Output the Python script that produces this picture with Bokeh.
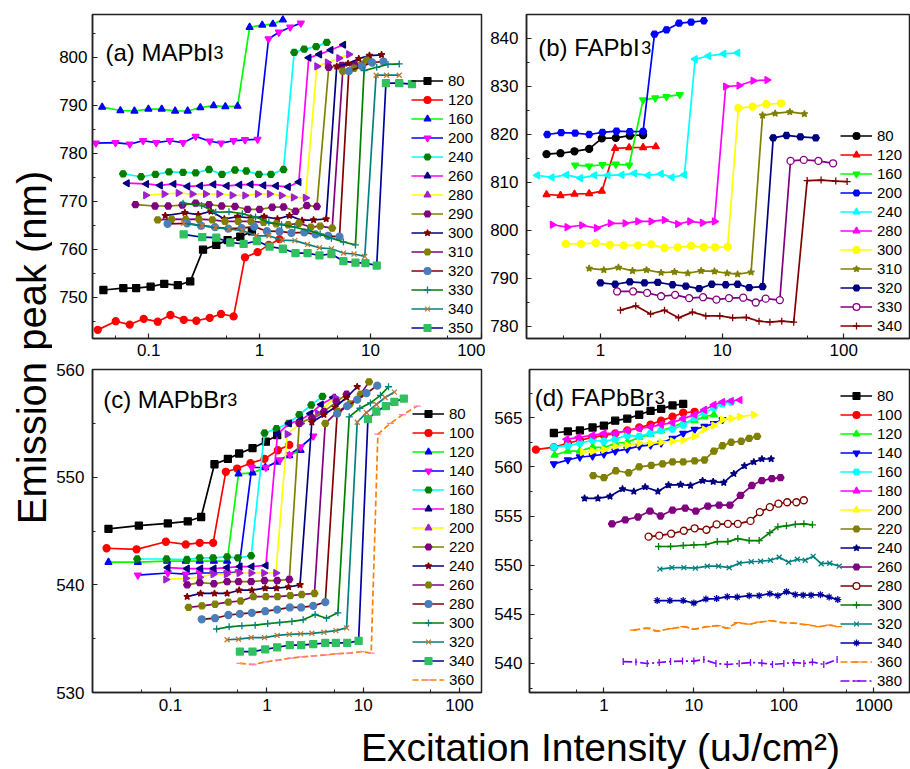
import math
from bokeh.plotting import figure
from bokeh.models import (Range1d, FixedTicker, CustomJSTickFormatter, Legend,
                          LegendItem, Label)
from bokeh.layouts import row, column
from bokeh.embed import file_html
from bokeh.resources import INLINE

FONT = "Liberation Sans"

# ---------------- (a) MAPbI3 ----------------
A_LABELS = ["80", "120", "160", "200", "240", "260", "280", "290", "300", "310", "320", "330", "340", "350"]
A80_X = [0.039, 0.059, 0.077, 0.104, 0.138, 0.183, 0.237, 0.309, 0.407, 0.515, 0.670, 0.853]
A80_Y = [751.5, 751.9, 751.9, 752.2, 752.8, 752.5, 753.3, 759.9, 760.9, 761.9, 762.6, 763.7]
A120_X = [0.0347, 0.0504, 0.0674, 0.0901, 0.1205, 0.157, 0.207, 0.269, 0.355, 0.449, 0.583, 0.738, 0.959, 1.21, 1.51]
A120_Y = [743.2, 745.0, 744.3, 745.5, 744.9, 746.3, 745.3, 745.1, 745.7, 746.5, 746.0, 758.3, 759.4, 760.9, 762.1]
A160_X = [0.038, 0.0555, 0.0743, 0.0993, 0.131, 0.173, 0.2245, 0.292, 0.385, 0.491, 0.634, 0.813, 1.057, 1.318, 1.622]
A160_Y = [789.6, 788.9, 788.8, 789.2, 789.2, 788.8, 788.8, 789.5, 789.9, 789.7, 789.8, 806.25, 806.7, 806.9, 807.8]
A200_X = [0.0333, 0.0501, 0.0674, 0.0889, 0.117, 0.155, 0.204, 0.265, 0.355, 0.449, 0.583, 0.738, 0.959, 1.205, 1.493, 1.889, 2.357]
A200_Y = [782.1, 782.2, 781.9, 782.6, 782.2, 782.6, 782.2, 783.5, 782.5, 782.1, 782.6, 782.8, 782.9, 803.8, 805.2, 806.25, 807.1]
A240_X = [0.0587, 0.0853, 0.115, 0.1525, 0.204, 0.265, 0.350, 0.458, 0.600, 0.759, 0.986, 1.265, 1.645, 2.053, 2.525, 3.24, 4.04]
A240_Y = [775.7, 775.1, 775.6, 776.1, 776.0, 775.9, 776.6, 775.6, 776.5, 776.3, 775.6, 775.6, 776.6, 801.0, 801.7, 802.2, 803.1]
A260_X = [0.0638, 0.0953, 0.127, 0.168, 0.2245, 0.292, 0.385, 0.508, 0.660, 0.835, 1.087, 1.413, 1.812, 2.26, 2.78, 3.47, 4.39, 5.71]
A260_Y = [773.75, 773.6, 773.3, 773.6, 773.1, 773.2, 773.5, 773.2, 773.4, 773.5, 773.3, 773.2, 773.0, 774.0, 799.9, 800.6, 801.5, 802.6]
A280_X = [0.094, 0.138, 0.185, 0.247, 0.3265, 0.4305, 0.567, 0.738, 0.959, 1.231, 1.578, 2.024, 2.596, 3.29, 4.10, 5.19, 6.38]
A280_Y = [771.25, 771.5, 771.7, 771.5, 771.5, 771.5, 771.25, 771.2, 771.5, 771.5, 771.2, 770.8, 770.7, 798.1, 798.9, 799.8, 800.6]
A290_X = [0.0759, 0.114, 0.150, 0.201, 0.265, 0.350, 0.455, 0.600, 0.780, 1.0, 1.30, 1.645, 2.11, 2.67, 3.29, 4.21, 5.52, 7.12, 9.40]
A290_Y = [769.3, 769.0, 769.0, 769.2, 769.6, 769.3, 769.0, 768.9, 768.3, 768.3, 768.75, 768.8, 767.9, 769.1, 768.9, 797.9, 798.3, 798.5, 799.5]
A300_X = [0.141, 0.212, 0.280, 0.364, 0.481, 0.634, 0.835, 1.10, 1.45, 1.86, 2.42, 3.07, 3.99, 4.97, 6.29, 7.85, 9.80, 12.6]
A300_Y = [767.0, 767.6, 767.2, 767.9, 766.3, 766.8, 766.5, 766.8, 766.3, 767.0, 766.0, 766.1, 766.3, 798.1, 798.7, 799.7, 800.35, 800.5]
A310_X = [0.1205, 0.161, 0.2155, 0.284, 0.375, 0.4875, 0.642, 0.835, 1.087, 1.413, 1.812, 2.26, 2.90, 3.52, 4.52, 5.63, 7.12, 9.27]
A310_Y = [766.1, 766.25, 766.2, 766.25, 766.1, 765.8, 765.8, 765.8, 765.6, 765.3, 765.1, 765.4, 764.6, 764.8, 764.4, 797.1, 797.7, 799.4]
A320_X = [0.148, 0.2215, 0.296, 0.396, 0.522, 0.688, 0.895, 1.164, 1.514, 1.94, 2.53, 3.20, 4.15, 5.26, 6.38, 8.41, 10.35, 13.1]
A320_Y = [765.3, 765.4, 764.9, 764.6, 764.3, 764.4, 764.7, 763.75, 763.7, 763.4, 763.5, 763.1, 762.8, 762.6, 797.1, 798.1, 798.9, 799.1]
A330_X = [0.204, 0.30, 0.402, 0.530, 0.698, 0.920, 1.213, 1.578, 2.08, 2.74, 3.52, 4.45, 5.71, 7.33, 8.77, 11.4, 14.4, 18.2]
A330_Y = [769.6, 769.1, 767.7, 767.8, 767.4, 766.7, 765.6, 765.1, 764.6, 763.9, 763.2, 762.3, 761.5, 760.9, 797.2, 797.9, 798.5, 798.6]
A340_X = [0.2066, 0.304, 0.402, 0.530, 0.698, 0.933, 1.213, 1.60, 2.08, 2.71, 3.47, 4.45, 5.71, 7.12, 8.89, 11.25, 14.0, 18.2]
A340_Y = [765.4, 764.9, 764.5, 764.2, 763.9, 762.8, 762.8, 761.9, 761.8, 761.0, 760.3, 760.1, 759.2, 759.0, 758.5, 796.25, 796.25, 796.25]
A350_X = [0.2066, 0.304, 0.407, 0.544, 0.718, 0.946, 1.231, 1.622, 2.11, 2.71, 3.47, 4.45, 5.71, 7.33, 9.02, 11.4, 13.8, 18.2, 23.7]
A350_Y = [763.1, 762.5, 762.4, 761.4, 761.1, 761.7, 760.55, 760.1, 759.2, 759.2, 758.7, 759.0, 757.5, 757.2, 757.1, 756.6, 794.6, 794.6, 794.4]

# ---------------- (b) FAPbI3 ----------------
B_LABELS = ["80", "120", "160", "200", "240", "280", "300", "310", "320", "330", "340"]
B80_X = [0.360, 0.469, 0.611, 0.807, 1.026, 1.337, 1.742, 2.24]
B80_Y = [815.8, 816.0, 816.4, 816.9, 819.1, 819.2, 819.65, 819.8]
B120_X = [0.360, 0.469, 0.611, 0.807, 1.026, 1.319, 1.720, 2.24, 2.85]
B120_Y = [807.4, 807.2, 807.5, 807.6, 808.1, 817.0, 817.15, 817.2, 817.4]
B160_X = [0.619, 0.807, 1.038, 1.337, 1.720, 2.24, 2.82, 3.49, 4.49]
B160_Y = [813.5, 813.3, 813.6, 813.7, 813.5, 827.1, 827.5, 827.8, 828.2]
B200_X = [0.365, 0.475, 0.619, 0.807, 1.038, 1.354, 1.742, 2.24, 2.78, 3.49, 4.43, 5.56, 7.07]
B200_Y = [819.9, 820.3, 820.2, 819.9, 820.35, 820.6, 820.5, 820.55, 840.8, 841.7, 843.1, 843.3, 843.6]
B240_X = [0.302, 0.398, 0.526, 0.685, 0.893, 1.149, 1.497, 1.90, 2.45, 3.15, 3.86, 4.90, 6.00, 7.72, 10.3, 13.4]
B240_Y = [811.4, 811.0, 811.5, 810.8, 811.4, 811.4, 811.5, 811.8, 811.4, 811.7, 811.0, 811.5, 835.6, 836.25, 836.7, 836.9]
B280_X = [0.403, 0.532, 0.703, 0.927, 1.208, 1.596, 2.03, 2.61, 3.36, 4.32, 5.43, 6.89, 8.65, 10.7, 13.8, 18.0, 23.4]
B280_Y = [801.1, 800.6, 801.0, 800.4, 801.4, 801.4, 801.8, 801.8, 802.1, 801.25, 801.8, 801.5, 801.8, 829.9, 830.1, 831.1, 831.25]
B300_X = [0.519, 0.693, 0.916, 1.193, 1.555, 2.03, 2.61, 3.36, 4.32, 5.56, 7.07, 8.76, 11.1, 13.6, 17.8, 23.1, 30.5]
B300_Y = [797.1, 797.1, 797.3, 796.9, 796.8, 796.8, 797.0, 796.25, 796.4, 796.7, 796.4, 796.4, 796.5, 825.4, 825.7, 826.2, 826.4]
B310_X = [0.807, 1.065, 1.406, 1.833, 2.39, 3.15, 4.06, 5.22, 6.72, 8.65, 11.0, 13.4, 17.3, 21.5, 27.3, 36.0, 47.5]
B310_Y = [792.0, 791.7, 792.2, 791.5, 791.7, 791.1, 791.3, 791.0, 791.5, 791.4, 791.0, 790.8, 791.2, 823.9, 824.3, 824.6, 824.2]
B320_X = [1.0, 1.32, 1.742, 2.30, 2.96, 3.91, 5.03, 6.47, 8.22, 10.7, 13.4, 16.7, 21.5, 26.3, 33.8, 44.0, 58.9]
B320_Y = [789.0, 788.7, 789.2, 789.0, 789.1, 788.6, 788.3, 787.8, 788.7, 788.6, 788.7, 788.0, 788.2, 819.2, 819.7, 819.4, 819.2]
B330_X = [1.371, 1.856, 2.42, 3.15, 4.11, 5.36, 6.98, 8.98, 11.4, 14.9, 18.9, 22.8, 29.8, 36.5, 46.9, 61.9, 81.7]
B330_Y = [787.2, 787.2, 786.9, 786.2, 786.5, 785.8, 786.0, 785.5, 785.8, 785.9, 784.9, 785.7, 785.4, 814.4, 814.6, 814.4, 813.9]
B340_X = [1.46, 1.95, 2.58, 3.36, 4.38, 5.70, 7.34, 9.57, 12.2, 15.8, 20.1, 24.7, 30.9, 38.8, 50.0, 65.1, 85.9, 106.5]
B340_Y = [783.3, 784.2, 782.5, 783.3, 781.7, 782.9, 782.1, 782.1, 781.7, 781.8, 781.0, 780.8, 781.0, 780.8, 810.3, 810.4, 810.2, 810.1]

# ---------------- (c) MAPbBr3 ----------------
C_LABELS = ["80", "100", "120", "140", "160", "180", "200", "220", "240", "260", "280", "300", "320", "340", "360"]
C80_X = [0.0227, 0.0469, 0.0938, 0.151, 0.208, 0.286, 0.394, 0.516, 0.710, 0.977, 1.28]
C80_Y = [545.2, 545.5, 545.7, 545.9, 546.3, 551.2, 551.7, 552.2, 552.7, 553.3, 553.9]
C100_X = [0.0217, 0.0444, 0.0895, 0.144, 0.201, 0.277, 0.375, 0.492, 0.676, 0.946, 1.30, 1.71]
C100_Y = [543.4, 543.3, 544.0, 543.75, 543.9, 543.9, 550.5, 550.8, 551.3, 551.7, 552.5, 553.0]
C120_X = [0.0227, 0.0458, 0.0923, 0.144, 0.201, 0.282, 0.387, 0.508, 0.710, 0.962, 1.28, 1.71, 2.24]
C120_Y = [542.1, 542.1, 542.2, 542.2, 542.2, 542.2, 542.2, 550.3, 550.4, 550.9, 551.4, 552.0, 552.5]
C140_X = [0.0458, 0.0938, 0.144, 0.201, 0.277, 0.387, 0.508, 0.698, 0.977, 1.366, 1.73, 2.24, 3.03]
C140_Y = [540.9, 541.1, 541.0, 541.1, 541.1, 541.1, 541.2, 550.9, 550.9, 551.6, 552.1, 552.8, 553.8]
C160_X = [0.0451, 0.0909, 0.148, 0.201, 0.277, 0.387, 0.500, 0.687, 0.946, 1.26, 1.68, 2.17, 2.89, 3.78]
C160_Y = [542.4, 542.4, 542.35, 542.5, 542.5, 542.6, 542.5, 542.7, 554.1, 554.5, 555.0, 555.8, 556.7, 557.5]
C180_X = [0.0938, 0.149, 0.205, 0.282, 0.387, 0.525, 0.698, 0.977, 1.29, 1.71, 2.24, 2.84, 3.66, 4.89]
C180_Y = [541.6, 541.5, 541.5, 541.5, 541.6, 541.7, 541.7, 541.8, 554.0, 555.0, 555.3, 555.9, 556.75, 557.4]
C200_X = [0.0895, 0.144, 0.201, 0.277, 0.381, 0.516, 0.687, 0.931, 1.24, 1.63, 2.24, 3.38, 5.12]
C200_Y = [540.5, 540.6, 540.7, 541.0, 541.0, 541.1, 541.1, 541.1, 541.1, 554.0, 555.0, 555.9, 557.4]
C220_X = [0.149, 0.201, 0.282, 0.387, 0.508, 0.687, 0.946, 1.28, 1.71, 2.17, 2.94, 3.91, 5.28, 6.72]
C220_Y = [540.0, 540.2, 540.1, 540.3, 540.3, 540.3, 540.4, 540.4, 540.5, 555.0, 555.5, 556.1, 557.0, 557.7]
C240_X = [0.149, 0.205, 0.286, 0.387, 0.516, 0.698, 0.962, 1.26, 1.68, 2.21, 2.93, 3.91, 5.12, 6.72, 8.67]
C240_Y = [538.9, 539.2, 539.2, 539.2, 539.5, 539.5, 539.7, 539.7, 539.8, 540.0, 555.1, 555.8, 556.5, 557.4, 558.4]
C260_X = [0.154, 0.212, 0.290, 0.399, 0.533, 0.725, 0.977, 1.29, 1.75, 2.30, 3.12, 4.04, 5.46, 7.28, 9.39, 11.5]
C260_Y = [537.9, 538.05, 538.2, 538.4, 538.5, 538.9, 538.9, 538.9, 539.0, 539.1, 539.2, 555.0, 556.1, 556.8, 557.7, 558.85]
C280_X = [0.211, 0.290, 0.399, 0.525, 0.698, 0.962, 1.28, 1.73, 2.27, 3.03, 4.04, 5.37, 6.82, 8.67, 10.8, 14.0]
C280_Y = [536.8, 536.9, 537.2, 537.3, 537.4, 537.55, 537.7, 537.9, 537.9, 538.05, 538.4, 555.9, 556.6, 557.2, 557.8, 558.5]
C300_X = [0.301, 0.406, 0.550, 0.756, 1.02, 1.36, 1.82, 2.38, 3.17, 4.16, 5.46, 7.16, 9.24, 11.9, 15.1, 18.3]
C300_Y = [535.9, 536.1, 536.2, 536.25, 536.4, 536.5, 536.6, 536.75, 537.25, 536.9, 537.4, 555.6, 556.4, 556.9, 557.6, 558.4]
C320_X = [0.387, 0.508, 0.687, 0.946, 1.28, 1.71, 2.24, 2.93, 3.91, 5.20, 6.72, 8.67, 10.8, 13.7, 16.9, 21.1]
C320_Y = [534.9, 534.95, 535.1, 535.1, 535.3, 535.4, 535.45, 535.5, 535.6, 535.75, 536.0, 555.1, 556.0, 556.75, 557.4, 557.9]
C340_X = [0.525, 0.710, 0.962, 1.28, 1.73, 2.27, 3.03, 4.04, 5.20, 6.82, 8.96, 11.2, 13.7, 17.2, 21.1, 26.4]
C340_Y = [533.8, 533.8, 534.0, 534.2, 534.4, 534.4, 534.5, 534.6, 534.6, 534.6, 534.8, 555.4, 556.1, 556.6, 557.0, 557.3]
C360_X = [0.525, 0.721, 0.977, 1.32, 1.76, 2.31, 3.07, 4.10, 5.37, 7.16, 9.53, 12.1, 14.2, 19.2, 25.6, 36.4]
C360_Y = [532.7, 532.6, 532.85, 533.0, 533.2, 533.3, 533.4, 533.5, 533.6, 533.65, 533.8, 533.65, 554.0, 555.0, 555.8, 556.6]

# ---------------- (d) FAPbBr3 ----------------
D_LABELS = ["80", "100", "120", "140", "160", "180", "200", "220", "240", "260", "280", "300", "320", "340", "360", "380"]
D80_X = [0.278, 0.398, 0.541, 0.748, 1.0, 1.336, 1.82, 2.47, 3.30, 4.33, 5.79, 7.61]
D80_Y = [563.44, 563.6, 563.7, 564.0, 564.2, 564.7, 564.9, 565.3, 565.7, 565.9, 566.25, 566.4]
D100_X = [0.1755, 0.278, 0.398, 0.541, 0.748, 1.0, 1.336, 1.82, 2.47, 3.30, 4.33, 5.79, 7.61, 10.2]
D100_Y = [561.75, 562.0, 562.4, 562.7, 563.0, 563.2, 563.4, 563.7, 564.0, 564.3, 564.7, 565.1, 565.5, 565.6]
D120_X = [0.283, 0.398, 0.541, 0.748, 1.0, 1.336, 1.82, 2.47, 3.30, 4.33, 5.79, 7.61, 10.2, 13.1, 16.7]
D120_Y = [561.2, 561.6, 561.6, 562.0, 561.95, 562.4, 562.5, 563.0, 563.3, 563.7, 564.05, 564.5, 564.7, 565.1, 565.3]
D140_X = [0.278, 0.398, 0.541, 0.748, 1.0, 1.336, 1.82, 2.47, 3.30, 4.33, 5.79, 7.61, 10.2, 13.1, 16.7, 20.8]
D140_Y = [560.3, 560.7, 561.0, 561.1, 561.3, 561.6, 561.8, 562.1, 562.2, 562.4, 562.9, 563.4, 563.8, 564.1, 564.4, 564.8]
D160_X = [0.278, 0.398, 0.541, 0.748, 1.0, 1.336, 1.82, 2.47, 3.30, 4.33, 5.79, 7.61, 10.2, 13.1, 16.7, 20.8, 26.0]
D160_Y = [562.0, 562.15, 562.4, 562.7, 562.6, 562.8, 563.2, 563.1, 563.4, 563.7, 563.85, 564.25, 565.0, 565.5, 566.0, 566.4, 566.6]
D180_X = [0.385, 0.523, 0.748, 1.0, 1.336, 1.82, 2.47, 3.30, 4.33, 5.79, 7.61, 10.2, 13.1, 16.7, 20.8, 26.0, 32.4]
D180_Y = [562.8, 563.0, 563.2, 563.4, 563.4, 563.7, 563.9, 564.05, 564.3, 564.5, 564.9, 565.3, 565.8, 566.3, 566.6, 566.7, 566.8]
D200_X = [0.579, 0.748, 1.0, 1.336, 1.82, 2.47, 3.30, 4.33, 5.79, 7.61, 10.2, 13.1, 16.7, 20.8, 26.0, 32.4, 46.4]
D200_Y = [561.5, 561.6, 561.75, 562.1, 562.2, 562.4, 562.4, 562.5, 562.6, 562.7, 563.1, 563.8, 564.2, 564.8, 564.9, 565.1, 565.3]
D220_X = [0.761, 1.0, 1.36, 1.88, 2.47, 3.36, 4.49, 5.79, 7.61, 10.2, 13.1, 16.7, 20.8, 26.0, 33.6, 41.2, 50.6]
D220_Y = [559.1, 558.9, 559.6, 559.4, 560.0, 560.15, 560.3, 560.5, 560.5, 560.6, 560.7, 561.6, 562.15, 562.5, 562.6, 562.9, 563.1]
D240_X = [0.610, 0.858, 1.17, 1.61, 2.15, 2.88, 3.98, 5.23, 7.11, 9.18, 12.5, 16.4, 21.5, 27.8, 36.5, 46.4, 57.0, 72.3]
D240_Y = [556.8, 556.8, 557.0, 557.75, 557.5, 557.95, 557.5, 558.15, 558.2, 558.1, 558.6, 558.5, 558.4, 559.3, 560.1, 560.5, 560.8, 560.8]
D260_X = [1.23, 1.73, 2.39, 3.25, 4.26, 5.79, 8.01, 10.5, 14.3, 19.1, 25.1, 33.0, 44.1, 57.0, 73.6, 91.8]
D260_Y = [554.2, 554.6, 554.9, 555.5, 555.0, 555.6, 555.8, 555.5, 556.0, 556.1, 556.1, 557.1, 558.1, 558.6, 558.8, 558.9]
D280_X = [3.14, 4.12, 5.60, 7.74, 10.2, 13.8, 17.9, 23.9, 30.8, 42.6, 54.1, 69.9, 87.2, 109, 138, 167]
D280_Y = [552.9, 553.0, 553.2, 553.5, 553.75, 553.6, 554.15, 554.2, 554.2, 554.5, 555.4, 555.9, 556.25, 556.4, 556.4, 556.6]
D300_X = [4.05, 5.51, 7.61, 10.0, 13.6, 18.2, 23.9, 30.8, 41.2, 53.2, 69.9, 85.8, 107, 134, 167, 208]
D300_Y = [551.9, 551.9, 552.0, 552.05, 552.1, 552.4, 552.4, 552.7, 552.5, 552.5, 553.3, 553.9, 554.0, 554.15, 554.2, 554.1]
D320_X = [4.19, 5.70, 7.74, 10.4, 14.1, 18.8, 24.7, 31.9, 43.4, 55.1, 71.1, 88.8, 113, 141, 173, 212, 260, 324, 412]
D320_Y = [549.6, 549.75, 549.75, 549.7, 549.9, 549.9, 549.75, 550.2, 550.35, 550.4, 550.5, 550.8, 550.3, 550.6, 550.5, 550.9, 550.15, 550.2, 549.9]
D340_X = [3.91, 5.41, 7.61, 10.0, 13.6, 17.9, 23.5, 30.3, 41.2, 53.2, 69.9, 85.8, 107, 134, 164, 201, 255, 319, 398]
D340_Y = [546.4, 546.4, 546.4, 546.15, 546.55, 546.6, 546.8, 546.75, 546.9, 546.9, 547.1, 546.9, 547.3, 547.0, 546.95, 546.95, 547.0, 546.75, 546.5]
D360_X = [2.12, 3.03, 3.91, 5.51, 7.74, 10.2, 14.1, 18.2, 23.5, 30.3, 41.2, 53.2, 72.3, 98.4, 129, 176, 243, 319, 405]
D360_Y = [543.4, 543.6, 543.3, 543.55, 543.75, 543.5, 543.75, 543.85, 543.6, 544.15, 544.0, 544.2, 544.35, 544.15, 544.1, 543.95, 543.75, 543.9, 543.75]
D380_X = [1.64, 2.27, 3.03, 4.12, 5.51, 7.48, 10.0, 12.9, 17.6, 23.5, 31.9, 42.6, 57.0, 74.8, 100, 129, 167, 208, 278, 391]
D380_Y = [540.2, 540.15, 540.0, 540.1, 540.2, 540.25, 540.25, 540.4, 540.0, 539.9, 540.0, 540.1, 540.05, 539.9, 540.0, 540.1, 540.0, 540.15, 539.9, 540.4]

# axis ticks
X_MAJOR = [0.01, 0.1, 1, 10, 100, 1000]
X_MINOR = [0.005, 0.05, 0.5, 5, 50, 500]
A_YT = [750, 760, 770, 780, 790, 800]
B_YT = [780, 790, 800, 810, 820, 830, 840]
C_YT = [530, 540, 550, 560]
D_YT = [540, 545, 550, 555, 560, 565]

# ---------------- styles ----------------
BLK, RED, GRN, BLU, CYN, MAG, YEL = "#000000", "#FF0000", "#00FF00", "#0000FF", "#00FFFF", "#FF00FF", "#FFFF00"
OLV, NAV, PUR, WIN, DGR, TEA, ROY = "#808000", "#000080", "#800080", "#800000", "#008000", "#008080", "#0000A0"
ORG, VIO, PNK, STL, BRN, LGR = "#FF8000", "#8000FF", "#FF80C0", "#4A7EBB", "#C07830", "#30C060"
LEFT, RIGHT = math.pi / 2, -math.pi / 2

# (line color, marker, marker line, marker fill, angle, dash)
STY_MA = [
    (BLK, "square", BLK, BLK, 0, "solid"),
    (RED, "circle", RED, RED, 0, "solid"),
    (GRN, "triangle", BLU, BLU, 0, "solid"),
    (BLU, "inverted_triangle", MAG, MAG, 0, "solid"),
    (CYN, "hex", DGR, DGR, 0, "solid"),
    (MAG, "triangle", NAV, NAV, LEFT, "solid"),
    (YEL, "triangle", "#A020D0", "#A020D0", RIGHT, "solid"),
    (OLV, "hex", PUR, PUR, 0, "solid"),
    (NAV, "star", WIN, WIN, 0, "solid"),
    (PUR, "hex", OLV, OLV, 0, "solid"),
    (WIN, "circle", STL, STL, 0, "solid"),
    (DGR, "cross", TEA, TEA, 0, "solid"),
    (TEA, "x", BRN, BRN, 0, "solid"),
    (ROY, "square_x", LGR, LGR, 0, "solid"),
    (ORG, "dash", PNK, PNK, 0, "6 3"),
]
STY_B = [
    (BLK, "circle", BLK, BLK, 0, "solid"),
    (RED, "triangle", RED, RED, 0, "solid"),
    (GRN, "inverted_triangle", GRN, GRN, 0, "solid"),
    (BLU, "hex", BLU, BLU, 0, "solid"),
    (CYN, "triangle", CYN, CYN, LEFT, "solid"),
    (MAG, "triangle", MAG, MAG, RIGHT, "solid"),
    (YEL, "circle", YEL, YEL, 0, "solid"),
    (OLV, "star", OLV, OLV, 0, "solid"),
    (NAV, "hex", NAV, NAV, 0, "solid"),
    (PUR, "circle", PUR, "#FFFFFF", 0, "solid"),
    (WIN, "cross", WIN, WIN, 0, "solid"),
]
STY_D = [
    (BLK, "square", BLK, BLK, 0, "solid"),
    (RED, "circle", RED, RED, 0, "solid"),
    (GRN, "triangle", GRN, GRN, 0, "solid"),
    (BLU, "inverted_triangle", BLU, BLU, 0, "solid"),
    (CYN, "hex", CYN, CYN, 0, "solid"),
    (MAG, "triangle", MAG, MAG, LEFT, "solid"),
    (YEL, "triangle", YEL, YEL, RIGHT, "solid"),
    (OLV, "hex", OLV, OLV, 0, "solid"),
    (NAV, "star", NAV, NAV, 0, "solid"),
    (PUR, "hex", PUR, PUR, 0, "solid"),
    (WIN, "circle", WIN, "#FFFFFF", 0, "solid"),
    (DGR, "cross", DGR, DGR, 0, "solid"),
    (TEA, "x", TEA, TEA, 0, "solid"),
    (ROY, "asterisk", ROY, ROY, 0, "solid"),
    (ORG, "dash", ORG, ORG, 0, "7 3"),
    (VIO, "dash", VIO, VIO, math.pi / 2, "9 3 2 3"),
]

A_SERIES = list(zip(A_LABELS, [A80_X, A120_X, A160_X, A200_X, A240_X, A260_X, A280_X, A290_X, A300_X, A310_X, A320_X, A330_X, A340_X, A350_X],
                    [A80_Y, A120_Y, A160_Y, A200_Y, A240_Y, A260_Y, A280_Y, A290_Y, A300_Y, A310_Y, A320_Y, A330_Y, A340_Y, A350_Y]))
B_SERIES = list(zip(B_LABELS, [B80_X, B120_X, B160_X, B200_X, B240_X, B280_X, B300_X, B310_X, B320_X, B330_X, B340_X],
                    [B80_Y, B120_Y, B160_Y, B200_Y, B240_Y, B280_Y, B300_Y, B310_Y, B320_Y, B330_Y, B340_Y]))
C_SERIES = list(zip(C_LABELS, [C80_X, C100_X, C120_X, C140_X, C160_X, C180_X, C200_X, C220_X, C240_X, C260_X, C280_X, C300_X, C320_X, C340_X, C360_X],
                    [C80_Y, C100_Y, C120_Y, C140_Y, C160_Y, C180_Y, C200_Y, C220_Y, C240_Y, C260_Y, C280_Y, C300_Y, C320_Y, C340_Y, C360_Y]))
D_SERIES = list(zip(D_LABELS, [D80_X, D100_X, D120_X, D140_X, D160_X, D180_X, D200_X, D220_X, D240_X, D260_X, D280_X, D300_X, D320_X, D340_X, D360_X, D380_X],
                    [D80_Y, D100_Y, D120_Y, D140_Y, D160_Y, D180_Y, D200_Y, D220_Y, D240_Y, D260_Y, D280_Y, D300_Y, D320_Y, D340_Y, D360_Y, D380_Y]))


def panel(width, height, borders, xr, yr, yticks, series, styles, leg_loc, title, title_w, title_xy, standoff):
    bl, br, bt, bb = borders
    p = figure(width=width, height=height, x_axis_type="log",
               x_range=Range1d(*xr), y_range=Range1d(*yr),
               output_backend="svg", toolbar_location=None,
               min_border_left=bl, min_border_right=br,
               min_border_top=bt, min_border_bottom=bb)
    p.xgrid.visible = False
    p.ygrid.visible = False
    p.outline_line_color = "#222222"
    p.outline_line_width = 1.5
    p.outline_line_alpha = 1.0
    p.background_fill_color = "white"
    p.border_fill_color = "white"
    step = yticks[1] - yticks[0]
    yminor = [t + step / 2 for t in yticks] + [yticks[0] - step / 2]
    p.xaxis.ticker = FixedTicker(ticks=X_MAJOR, minor_ticks=X_MINOR)
    p.yaxis.ticker = FixedTicker(ticks=yticks, minor_ticks=yminor)
    p.xaxis.formatter = CustomJSTickFormatter(code="return String(tick)")
    for ax in (p.xaxis[0], p.yaxis[0]):
        ax.major_tick_in = 5
        ax.major_tick_out = 0
        ax.minor_tick_in = 3
        ax.minor_tick_out = 0
        ax.axis_line_color = "#222222"
        ax.axis_line_width = 1.5
        ax.major_tick_line_color = "#222222"
        ax.minor_tick_line_color = "#222222"
        ax.major_tick_line_width = 1.2
        ax.minor_tick_line_width = 1.0
        ax.major_label_text_font = FONT
        ax.major_label_text_font_size = "17px"
        ax.major_label_text_color = "black"
    p.xaxis.major_label_standoff = standoff[0]
    p.yaxis.major_label_standoff = standoff[1]

    items = []
    for (lab, xs, ys), st in zip(series, styles):
        lc, mk, ml, mf, ang, dash = st
        r1 = p.line(xs, ys, line_color=lc, line_width=1.7, line_dash=dash)
        r2 = p.scatter(xs, ys, marker=mk, size=7, angle=ang,
                       line_color=ml, fill_color=mf, line_width=1.3)
        items.append(LegendItem(label=lab, renderers=[r1, r2]))
    leg = Legend(items=items, location=leg_loc, orientation="vertical",
                 label_text_font=FONT, label_text_font_size="15px",
                 label_text_color="black",
                 glyph_width=32, glyph_height=17, label_height=17,
                 label_standoff=5, spacing=2, padding=0, margin=0,
                 border_line_alpha=0, background_fill_alpha=0)
    p.add_layout(leg)

    tx, ty = title_xy
    p.add_layout(Label(x=tx, y=ty, text=title, text_font=FONT,
                       text_font_size="24px", text_color="black",
                       text_baseline="alphabetic"))
    p.add_layout(Label(x=tx, y=ty, x_offset=title_w, text="3", text_font=FONT,
                       text_font_size="18px", text_color="black",
                       text_baseline="alphabetic"))
    return p


# page origin is (0, 0): frames (a) 92..481 x 14..338, (b) 526..909,
# (c) 92..481 x 369..692, (d) 529..909
pa = panel(433, 362, (40, 4, 14, 24), (0.0311, 100.5), (741.4, 808.9), A_YT,
           A_SERIES, STY_MA[:14], (319, 2), "(a) MAPbI", 108, (0.0407, 801.0), (5, 5))
pb = panel(425, 362, (41, 1, 14, 24), (0.2465, 347), (777.4, 844.9), B_YT,
           B_SERIES, STY_B, (314, 4), "(b) FAPbI", 103, (0.3077, 838.0), (5, 8))
pc = panel(433, 355, (40, 4, 7, 25), (0.0155, 169), (530, 560), C_YT,
           C_SERIES, STY_MA, (320, 4), "(c) MAPbBr", 124, (0.0200, 557.2), (6, 8))
pd = panel(425, 355, (44, 1, 7, 25), (0.149, 2493), (537.05, 569.9), D_YT,
           D_SERIES, STY_D, (311, 3), "(d) FAPbBr", 120, (0.170, 567.1), (6, 7))


def blank(w, h):
    f = figure(width=w, height=h, x_range=Range1d(0, w), y_range=Range1d(0, h),
               output_backend="svg", toolbar_location=None,
               min_border=0, x_axis_location=None, y_axis_location=None)
    f.xgrid.visible = False
    f.ygrid.visible = False
    f.outline_line_color = None
    return f


ylab = blank(52, 717)
ylab.add_layout(Label(x=31, y=370, text="Emission peak (nm)", angle=math.pi / 2,
                      text_align="center", text_baseline="middle",
                      text_font=FONT, text_font_size="40px", text_color="black"))
xlab = blank(910, 52)
xlab.add_layout(Label(x=600, y=22, text="Excitation Intensity (uJ/cm²)",
                      text_align="center", text_baseline="middle",
                      text_font=FONT, text_font_size="39px", text_color="black"))

layout = column(row(ylab, column(row(pa, pb), row(pc, pd))), xlab)

open("out.html", "w").write(file_html(layout, INLINE))
